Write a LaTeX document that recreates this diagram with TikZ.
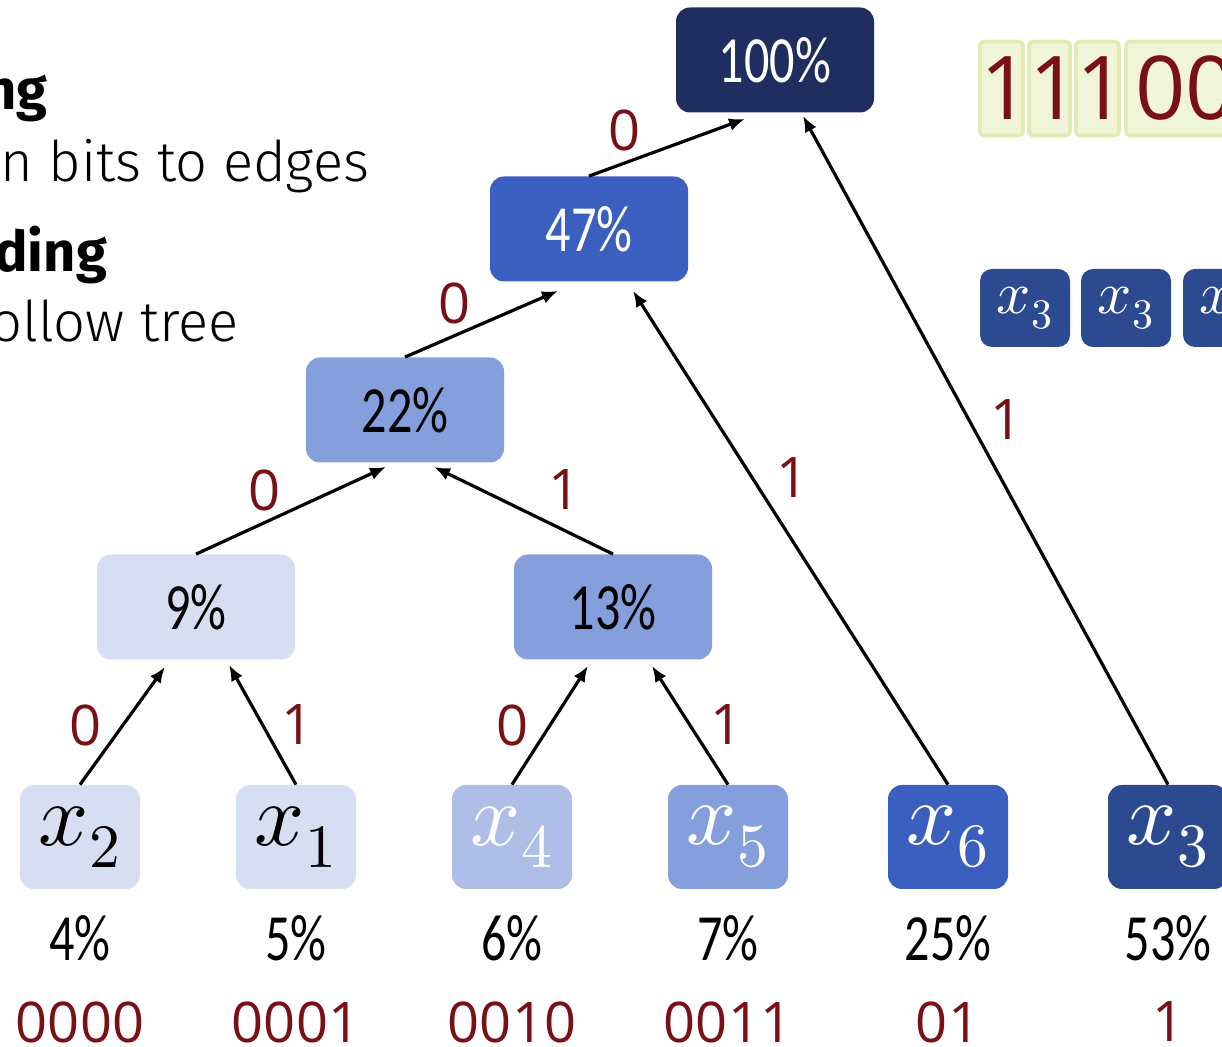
\documentclass[tikz,border=0pt]{standalone}
\usepackage{fontspec}
\usepackage{unicode-math}
\setmainfont{Open Sans}
\setmathfont{Latin Modern Math}
\newfontfamily\pctfont{Carlito}[FakeStretch=0.76]
\newfontfamily\headlight{Fira Sans Light}
\newfontfamily\headbold{Fira Sans Bold}
\usepackage{tikz}
\usetikzlibrary{positioning, arrows.meta, calc}
\definecolor{HNavy}{RGB}{31,46,94}
\definecolor{HBlue}{RGB}{58,95,191}
\definecolor{HMid}{RGB}{133,158,220}
\definecolor{HLight}{RGB}{174,190,230}
\definecolor{HPale}{RGB}{214,222,242}
\definecolor{HDeep}{RGB}{44,74,143}
\definecolor{BitRed}{RGB}{120,16,20}
\definecolor{CodeFill}{RGB}{240,244,216}
\definecolor{CodeEdge}{RGB}{226,235,178}
\newcommand\pctsize{\pctfont\fontsize{33}{38}\selectfont}
\newcommand\bitsize{\fontsize{28}{32}\selectfont}
\newcommand\mathsize{\fontsize{44}{50}\selectfont}

\begin{document}
\begin{tikzpicture}[x=0.5pt, y=-0.5pt,
    tbox/.style={rectangle, rounded corners=7pt, minimum width=99pt,
                 minimum height=52.5pt, inner sep=0pt, font=\pctsize},
    leaf/.style={rectangle, rounded corners=7pt, minimum width=60pt,
                 minimum height=52pt, inner sep=0pt, font=\mathsize},
    cbox/.style={rectangle, rounded corners=2pt, fill=CodeFill, draw=CodeEdge,
                 line width=1.8pt, minimum height=47pt, inner sep=0pt,
                 align=center, font=\fontsize{44}{48}\selectfont, text=BitRed},
    sbox/.style={rectangle, rounded corners=6pt, fill=HDeep, text=white,
                 minimum width=45pt, minimum height=39pt, inner sep=0pt,
                 font=\fontsize{30}{34}\selectfont},
    bit/.style={font=\bitsize, text=BitRed},
    arr/.style={-{Latex[length=8pt, width=6.5pt]}, line width=1.6pt}
  ]
  \useasboundingbox (0,0) rectangle (1222,1047);
  \clip (0,0) rectangle (1222,1047);

  % heading text
  \node[anchor=base west, inner sep=0pt, font=\headbold\fontsize{28}{32}\selectfont]
        (hd1) at (-16,110) {ng};
  \node[anchor=base west, inner sep=0pt, font=\headlight\fontsize{28}{32}\selectfont]
        (hd2) at (0,182) {n bits to edges};
  \node[anchor=base west, inner sep=0pt, font=\headbold\fontsize{28}{32}\selectfont]
        (hd3) at (-6,272) {ding};
  \node[anchor=base west, inner sep=0pt, font=\headlight\fontsize{28}{32}\selectfont]
        (hd4) at (-10,342) {ollow tree};

  \node[tbox, fill=HNavy, text=white] (root) at (775,60)  {100\%};
  \node[tbox, fill=HBlue, text=white] (n47)  at (589,229) {47\%};
  \node[tbox, fill=HMid]              (n22)  at (405,410) {22\%};
  \node[tbox, fill=HPale]             (n9)   at (196,607) {9\%};
  \node[tbox, fill=HMid]              (n13)  at (613,607) {13\%};

  \node[leaf, fill=HPale]              (x2) at (80,837)   {$x_2$};
  \node[leaf, fill=HPale]              (x1) at (296,837)  {$x_1$};
  \node[leaf, fill=HLight, text=white] (x4) at (512,837)  {$x_4$};
  \node[leaf, fill=HMid, text=white]   (x5) at (728,837)  {$x_5$};
  \node[leaf, fill=HBlue, text=white]  (x6) at (948,837)  {$x_6$};
  \node[leaf, fill=HDeep, text=white]  (x3) at (1168,837) {$x_3$};

  \foreach \x/\p/\c [count=\i] in {80/4/0000, 296/5/0001, 512/6/0010,
                                   728/7/0011, 948/25/01, 1168/53/1}{
    \node[font=\pctsize] (p\i) at (\x,938)  {\p\%};
    \node[bit]           (c\i) at (\x,1022) {\c};
  }

  \draw[arr] (n47.north) -- ($(root.south)+(-30,6)$);
  \draw[arr] (x3.north)  -- ($(root.south)+(28,3)$);
  \draw[arr] (n22.north) -- ($(n47.south)+(-31,9)$);
  \draw[arr] (x6.north)  -- ($(n47.south)+(44,9)$);
  \draw[arr] (n9.north)  -- ($(n22.south)+(-19,4)$);
  \draw[arr] (n13.north) -- ($(n22.south)+(29,4)$);
  \draw[arr] (x2.north)  -- ($(n9.south)+(-31,7)$);
  \draw[arr] (x1.north)  -- ($(n9.south)+(33,5)$);
  \draw[arr] (x4.north)  -- ($(n13.south)+(-25,6)$);
  \draw[arr] (x5.north)  -- ($(n13.south)+(39,6)$);

  \node[bit] (e1)  at (625,130)  {0};
  \node[bit] (e2)  at (1007,420) {1};
  \node[bit] (e3)  at (455,303)  {0};
  \node[bit] (e4)  at (793,478)  {1};
  \node[bit] (e5)  at (265,490)  {0};
  \node[bit] (e6)  at (565,490)  {1};
  \node[bit] (e7)  at (86,725)   {0};
  \node[bit] (e8)  at (298,725)  {1};
  \node[bit] (e9)  at (513,725)  {0};
  \node[bit] (e10) at (727,725)  {1};

  % code word
  \node[cbox, text width=21.5pt]             (b1) at (1001.5,88.5) {1};
  \node[cbox, text width=20.5pt]             (b2) at (1049.5,88.5) {1};
  \node[cbox, text width=21.5pt]             (b3) at (1097.5,88.5) {1};
  \node[cbox, text width=60pt, anchor=west]  (b4) at (1124,88.5)   {00};

  \node[sbox] (s1) at (1025,308) {$x_3$};
  \node[sbox] (s2) at (1126,308) {$x_3$};
  \node[sbox] (s3) at (1228,308) {$x_3$};
\end{tikzpicture}
\end{document}
